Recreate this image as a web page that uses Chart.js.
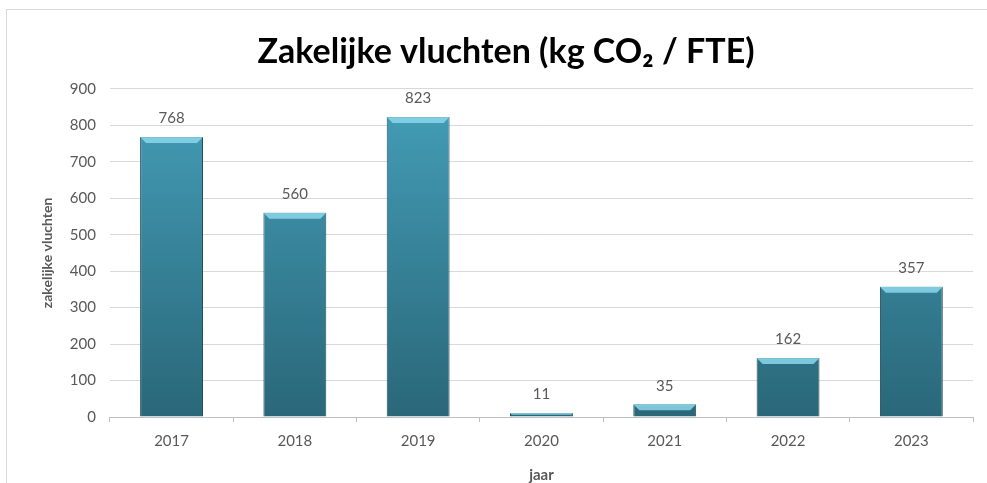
<!DOCTYPE html>
<html>
<head>
<meta charset="utf-8">
<script src="https://cdn.jsdelivr.net/npm/chart.js@4.4.1/dist/chart.umd.min.js"></script>
<style>
  html, body { margin: 0; padding: 0; background: #fff; }
  #wrap { position: relative; width: 987px; height: 483px; }
  #frame { position: absolute; left: 6px; top: 9px; width: 990px; height: 480px; border: 1px solid #d9d9d9; box-sizing: border-box; }
</style>
</head>
<body>
<div id="wrap">
  <div id="frame"></div>
  <canvas id="grafico" width="987" height="483"></canvas>
</div>
<script>
const jaren = ['2017', '2018', '2019', '2020', '2021', '2022', '2023'];
const kgCO2 = [768, 560, 823, 11, 35, 162, 357];
const yTicks = [0, 100, 200, 300, 400, 500, 600, 700, 800, 900];

// labels boven de staven
const labelsBoven = {
    id: 'labelsBoven',
    afterDatasetsDraw(chart) {
        const ctx = chart.ctx;
        const meta = chart.getDatasetMeta(0);
        ctx.save();
        ctx.fillStyle = '#595959';
        ctx.font = '15px Lato';
        ctx.textAlign = 'center';
        ctx.textBaseline = 'bottom';
        meta.data.forEach((bar, i) => {
            ctx.fillText(kgCO2[i], bar.x, bar.y - 11);
        });
        ctx.restore();
    }
};

// lichte rand bovenaan de staaf (bevel)
const bevel = {
    id: 'bevel',
    afterDatasetsDraw(chart) {
        const ctx = chart.ctx;
        const meta = chart.getDatasetMeta(0);
        ctx.save();
        meta.data.forEach(bar => {
            const h = bar.base - bar.y;
            const b = Math.min(6, h / 2);
            const l = bar.x - bar.width / 2;
            const r = bar.x + bar.width / 2;
            ctx.fillStyle = 'rgba(140,215,235,0.85)';
            ctx.beginPath();
            ctx.moveTo(l, bar.y);
            ctx.lineTo(r, bar.y);
            ctx.lineTo(r - b, bar.y + b);
            ctx.lineTo(l + b, bar.y + b);
            ctx.closePath();
            ctx.fill();
        });
        ctx.restore();
    }
};

function vulling(context) {
    const chart = context.chart;
    const area = chart.chartArea;
    if (!area) return '#3a8aa2';
    const g = chart.ctx.createLinearGradient(0, area.top, 0, area.bottom);
    g.addColorStop(0, '#449fb9');
    g.addColorStop(1, '#2a6779');
    return g;
}

const ctx = document.getElementById('grafico').getContext('2d');
const miGrafico = new Chart(ctx, {
    type: 'bar',
    data: {
        labels: jaren,
        datasets: [{
            data: kgCO2,
            backgroundColor: vulling,
            borderColor: '#1f4c5a',
            borderWidth: 1,
            categoryPercentage: 1,
            barPercentage: 0.51
        }]
    },
    options: {
        responsive: false,
        animation: false,
        layout: { padding: { left: 39, right: 14, top: 8, bottom: -1 } },
        plugins: {
            legend: { display: false },
            tooltip: { enabled: false },
            title: {
                display: true,
                text: 'Zakelijke vluchten (kg CO₂ / FTE)',
                color: '#000',
                font: { family: 'Lato', size: 34, weight: 'bold' },
                padding: { top: 24, bottom: 16 }
            }
        },
        scales: {
            x: {
                grid: { display: true, drawOnChartArea: false, drawTicks: true, tickLength: 5, color: '#bfbfbf', offset: true },
                border: { color: '#bfbfbf' },
                ticks: { color: '#595959', font: { family: 'Lato', size: 15 }, padding: 10 },
                title: { display: true, text: 'jaar', color: '#595959', font: { family: 'Lato', size: 15, weight: 'bold' }, padding: { top: 6, bottom: 0 } }
            },
            y: {
                min: 0,
                max: 900,
                afterBuildTicks(axis) { axis.ticks = yTicks.map(v => ({ value: v })); },
                grid: { color: '#d9d9d9', drawTicks: false },
                border: { display: false },
                ticks: { color: '#595959', font: { family: 'Lato', size: 15 }, padding: 14 },
                title: { display: true, text: 'zakelijke vluchten', color: '#595959', font: { family: 'Lato', size: 14, weight: 'bold' }, padding: { top: 0, bottom: 0 } }
            }
        }
    },
    plugins: [labelsBoven, bevel]
});
</script>
</body>
</html>
